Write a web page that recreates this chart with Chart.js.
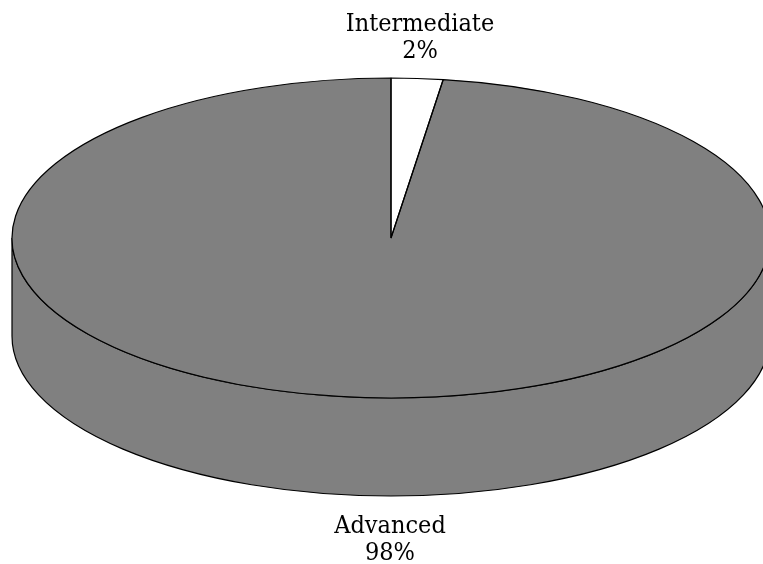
<!DOCTYPE html>
<html>
<head>
<meta charset="utf-8">
<style>
  html, body { margin: 0; padding: 0; background: #fff; }
  canvas { display: block; }
</style>
<script src="https://cdn.jsdelivr.net/npm/chart.js@4/dist/chart.umd.js"></script>
</head>
<body>
<canvas id="chart" width="763" height="564"></canvas>
<script>
const categories = ['Intermediate', 'Advanced']
const shares = [2.2, 97.8]
const shareLabels = ['2%', '98%']
const sliceColors = ['#ffffff', '#808080']

const squash = 379 / 160 // pie is widened to an ellipse
const depth = 98
const font = 'condensed 25px "DejaVu Serif"'

function slicePath(ctx, arc, rx) {
  ctx.beginPath()
  ctx.moveTo(arc.x, arc.y)
  ctx.ellipse(arc.x, arc.y, rx, arc.outerRadius, 0, arc.startAngle, arc.endAngle)
  ctx.closePath()
}

const tiltedPie = {
  id: 'tiltedPie',
  beforeDatasetsDraw(chart) {
    const ctx = chart.ctx
    const arcs = chart.getDatasetMeta(0).data
    ctx.save()
    ctx.lineWidth = 1.2
    ctx.strokeStyle = '#000'
    arcs.forEach(arc => {
      const from = Math.max(arc.startAngle, 0)
      const to = Math.min(arc.endAngle, Math.PI)
      if (to <= from) return
      const rx = arc.outerRadius * squash
      ctx.beginPath()
      ctx.ellipse(arc.x, arc.y + depth, rx, arc.outerRadius, 0, from, to)
      ctx.ellipse(arc.x, arc.y, rx, arc.outerRadius, 0, to, from, true)
      ctx.closePath()
      ctx.fillStyle = arc.options.backgroundColor
      ctx.fill()
      ctx.stroke()
    })
    ctx.restore()

    // the library fills the slices, stretched sideways
    const cx = arcs[0].x
    ctx.save()
    ctx.translate(cx, 0)
    ctx.scale(squash, 1)
    ctx.translate(-cx, 0)
  },
  afterDatasetsDraw(chart) {
    const ctx = chart.ctx
    ctx.restore()
    ctx.save()
    ctx.lineWidth = 1.2
    ctx.lineJoin = 'bevel'
    ctx.strokeStyle = '#000'
    chart.getDatasetMeta(0).data.forEach(arc => {
      slicePath(ctx, arc, arc.outerRadius * squash)
      ctx.stroke()
    })
    ctx.fillStyle = '#000'
    ctx.font = font
    ctx.textAlign = 'center'
    ctx.textBaseline = 'alphabetic'
    const cx = chart.getDatasetMeta(0).data[0].x
    ctx.fillText(categories[0], cx + 29, 31)
    ctx.fillText(shareLabels[0], cx + 29, 58)
    ctx.fillText(categories[1], cx - 1, 533)
    ctx.fillText(shareLabels[1], cx - 1, 560)
    ctx.restore()
  },
}

new Chart(document.getElementById('chart'), {
  type: 'pie',
  data: {
    labels: categories,
    datasets: [{
      data: shares,
      backgroundColor: sliceColors,
      borderWidth: 0,
    }],
  },
  options: {
    responsive: false,
    animation: false,
    layout: { padding: { left: 19, top: 78, right: 0, bottom: 166 } },
    plugins: {
      legend: { display: false },
      tooltip: { enabled: false },
    },
  },
  plugins: [tiltedPie],
})
</script>
</body>
</html>
